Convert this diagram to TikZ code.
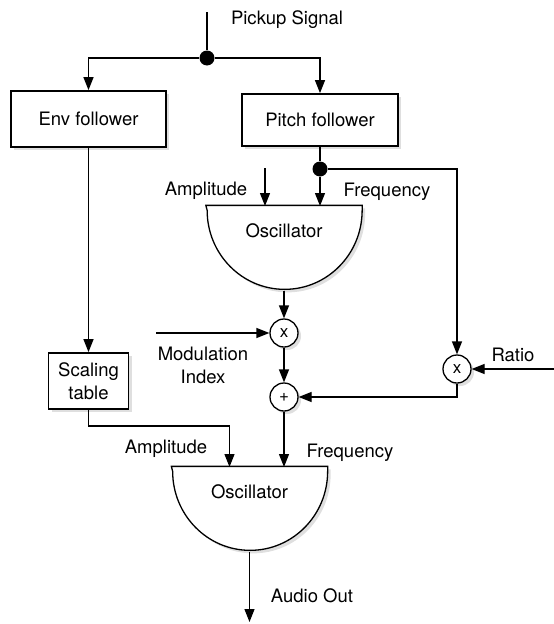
\documentclass[tikz,border=0pt]{standalone}
\usepackage{fontspec}
\setmainfont{TeX Gyre Heros}
\usetikzlibrary{arrows.meta,positioning,calc,shadows}

\begin{document}
\begin{tikzpicture}[x=1pt, y=1pt,
    font=\fontsize{18.5}{23}\selectfont,
    line width=1.3pt,
    >={Triangle[length=13pt,width=10pt]},
    shade/.style={drop shadow={shadow xshift=3pt, shadow yshift=-3pt, opacity=0.25}},
    block/.style={rectangle, draw, line width=1.8pt, fill=white, shade, inner sep=0pt, align=center},
    junction/.style={circle, fill=black, inner sep=0pt, minimum size=15pt},
    op/.style={circle, draw, fill=white, shade, inner sep=0pt, minimum size=28pt, font=\fontsize{17}{17}\selectfont},
    osc/.style={rectangle, inner sep=0pt, minimum width=155pt, minimum height=84pt},
    lbl/.style={inner sep=0pt, align=center}]
    \useasboundingbox (0,0) rectangle (554,-624);

    % Input and split
    \coordinate (pickup) at (207,-12);
    \node[junction] (split) at (207,-58) {};
    \node[lbl] at (287,-20) {Pickup Signal};
    \draw (pickup) -- (split);

    % Followers
    \node[block, minimum width=155pt, minimum height=56pt] (env) at (88.5,-119) {Env follower};
    \node[block, minimum width=156pt, minimum height=52pt] (pitch) at (320,-120) {Pitch follower};
    \draw[->] (split) -| (env.north);
    \draw[->] (split) -| (pitch.north);

    % First oscillator
    \node[osc] (osc1) at (284,-248) {};
    \draw[fill=white, shade] (osc1.north west) -- (osc1.north east) -- ++(0,-5)
        arc[start angle=0, end angle=-180, x radius=77.5, y radius=79] -- cycle;
    \node[lbl] (osc1txt) at (284,-231) {Oscillator};
    \coordinate (osc1amp) at (265,-206);
    \coordinate (osc1frq) at (320,-206);
    \coordinate (amp1) at (265,-168);
    \node[junction] (fdot) at (320,-169) {};
    \draw (pitch) -- (fdot);
    \draw[->] (fdot) -- (osc1frq);
    \draw[->] (amp1) -- (osc1amp);
    \node[lbl] at (206,-191) {Amplitude};
    \node[lbl] at (387,-192) {Frequency};

    % Modulation
    \node[op] (xm) at (284,-333) {x};
    \node[op] (plus) at (284,-397) {+};
    \node[op] (xr) at (457,-369) {x};
    \coordinate (modin) at (156,-333);
    \coordinate (ratioin) at (554,-369);
    \draw[->] (osc1.south) -- (xm);
    \draw[->] (modin) -- (xm);
    \draw[->] (xm) -- (plus);
    \draw[->] (fdot) -| (xr);
    \draw[->] (ratioin) -- (xr);
    \draw[->] (xr.south) |- (plus.east);
    \node[lbl] at (203,-365) {Modulation\\Index};
    \node[lbl] at (513,-355) {Ratio};

    % Scaling
    \node[block, minimum width=80pt, minimum height=56pt] (scale) at (88.5,-381) {Scaling\\table};
    \draw[->] (env) -- (scale);

    % Second oscillator
    \node[osc] (osc2) at (249.5,-509) {};
    \draw[fill=white, shade] (osc2.north west) -- (osc2.north east) -- ++(0,-5)
        arc[start angle=0, end angle=-180, x radius=77.5, y radius=79] -- cycle;
    \node[lbl] (osc2txt) at (249.5,-492) {Oscillator};
    \coordinate (osc2amp) at (229.5,-467);
    \coordinate (osc2frq) at (284,-467);
    \coordinate (audio) at (249.5,-622);
    \draw[->] (scale.south) -- ++(0,-16) -| (osc2amp);
    \draw[->] (plus) -- (osc2frq);
    \draw[->] (osc2.south) -- (audio);
    \node[lbl] at (166,-449) {Amplitude};
    \node[lbl] at (350,-453) {Frequency};
    \node[lbl] at (312,-596) {Audio Out};
\end{tikzpicture}
\end{document}
